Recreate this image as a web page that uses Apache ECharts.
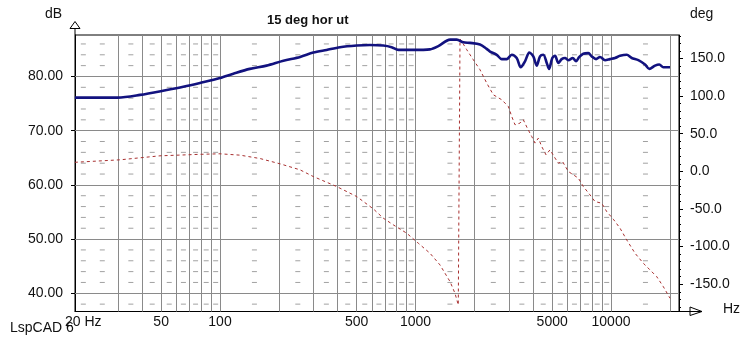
<!DOCTYPE html>
<html><head><meta charset="utf-8">
<script src="https://cdn.jsdelivr.net/npm/echarts@6/dist/echarts.min.js"></script>
<style>html,body{margin:0;padding:0;background:#fff}#c{width:750px;height:340px}</style>
</head><body><div id="c"></div>
<script>
// ---- data ----
const magFreq = [18.1, 30, 39, 53.4, 64.9, 79, 100, 117, 142, 173, 211, 257, 300, 351, 411, 500, 585, 684, 755, 817, 974, 1186, 1308, 1502, 1624, 1756, 1900, 2137, 2313, 2405, 2602, 2760, 2928, 3106, 3293, 3452, 3632, 3821, 4005, 4168, 4334, 4505, 4690, 4819, 5009, 5172, 5377, 5596, 5818, 6047, 6370, 6622, 6885, 7217, 7655, 7969, 8381, 8785, 9318, 9883, 10484, 11117, 12032, 12763, 13793, 14925, 15700, 16796, 17665, 18515, 20034];
const magDb = [76.1, 76.1, 76.6, 77.5, 78.1, 78.8, 79.7, 80.5, 81.4, 82.0, 82.9, 83.6, 84.4, 84.9, 85.4, 85.7, 85.8, 85.7, 85.4, 84.9, 84.9, 85.0, 85.6, 86.8, 86.8, 86.3, 86.2, 85.9, 85.1, 84.6, 84.0, 83.2, 83.2, 84.0, 83.4, 81.7, 82.8, 84.4, 83.7, 82.0, 83.7, 84.0, 82.5, 81.4, 83.4, 83.8, 82.5, 83.2, 83.4, 83.0, 83.4, 82.8, 83.6, 84.2, 84.3, 83.7, 83.2, 83.6, 83.0, 83.2, 83.4, 83.8, 84.0, 83.4, 83.0, 82.2, 81.4, 82.0, 82.2, 81.7, 81.7];
const phaseFreq = [18.1, 30.8, 49.3, 79, 100, 126.6, 160.2, 202.7, 256.6, 300, 395.3, 500.3, 608.4, 684.3, 770, 901.6, 1033.5, 1186, 1334, 1502, 1592, 1655, 1689, 1723, 1828, 1975, 2137, 2313, 2500, 2760, 2983, 3106, 3228, 3423, 3560, 3732, 3930, 4087, 4248, 4421, 4650, 4875, 5172, 5377, 5650, 6047, 6804, 7217, 7809, 8283, 8963, 9507, 10275, 11117, 12032, 13267, 14631, 15830, 17132, 18515, 20034];
const phaseDeg = [12.0, 15.3, 20.6, 22.6, 23.3, 21.5, 17.0, 10.0, 2.0, -6.9, -20.2, -33.5, -49.9, -62.2, -71.1, -82.2, -95.5, -108.8, -124.3, -146.5, -162.0, -177.5, 175.8, 172.6, 161.6, 148.3, 135.0, 117.3, 101.7, 95.1, 86.2, 72.9, 61.8, 64.1, 68.5, 57.4, 46.3, 37.5, 44.1, 33.0, 21.9, 28.6, 17.6, 10.9, 13.0, -0.2, -9.0, -20.2, -31.3, -40.2, -42.3, -53.5, -63.6, -75.5, -91.1, -108.8, -122.1, -131.0, -139.9, -153.2, -168.6];

// ---- ticks / grid ----
const xGridFreqs = [30, 40, 50, 60, 70, 80, 90, 100, 200, 300, 400, 500, 600, 700, 800, 900, 1000, 2000, 3000, 4000, 5000, 6000, 7000, 8000, 9000, 10000, 20000];
const xTickLabels = [20, 50, 100, 500, 1000, 5000, 10000];
const xMinorFreqs = [20, 25, 35, 45, 55, 65, 75, 85, 95, 150, 250, 350, 450, 550, 650, 750, 850, 950, 1500, 2500, 3500, 4500, 5500, 6500, 7500, 8500, 9500, 15000];
const dbTicks = [40, 50, 60, 70, 80];
const dbMinor = [38, 42, 44, 46, 48, 52, 54, 56, 58, 62, 64, 66, 68, 72, 74, 76, 78, 82, 84, 86];
const degTicks = [-150, -100, -50, 0, 50, 100, 150];
const degMinor = [-180, -170, -160, -140, -130, -120, -110, -90, -80, -70, -60, -40, -30, -20, -10, 10, 20, 30, 40, 60, 70, 80, 90, 110, 120, 130, 140, 160, 170, 180];

const X_MIN = 18.13, X_MAX = 22270;
const DB_MIN = 36.64, DB_MAX = 87.65;
const DEG_MIN = -186.2, DEG_MAX = 181.1;

// layout
const GL = 75, GR = 71, GT = 35, GB = 28.5, W = 750, H = 340;
const FONT = 'Liberation Sans, Arial, sans-serif';

const dashPts = [];
xMinorFreqs.forEach(f => dbMinor.forEach(v => dashPts.push([f, v])));

const chart = echarts.init(document.getElementById('c'), null, {renderer: 'canvas'});
const xR = W - GR, yB = H - GB;
chart.setOption({
  animation: false,
  backgroundColor: '#fff',
  grid: {left: GL, right: GR, top: GT, bottom: GB, show: true, borderColor: '#000', borderWidth: 1, backgroundColor: '#fff'},
  xAxis: {
    type: 'log', logBase: 10, min: X_MIN, max: X_MAX,
    axisLine: {show: true, onZero: false, lineStyle: {color: '#000', width: 1}},
    axisTick: {show: false}, axisLabel: {show: false},
    splitLine: {show: false}, minorTick: {show: false}, minorSplitLine: {show: false}
  },
  yAxis: [
    {
      type: 'value', position: 'left', min: DB_MIN, max: DB_MAX,
      axisLine: {show: true, onZero: false, lineStyle: {color: '#000'}},
      axisTick: {show: true, customValues: dbTicks, length: 4, lineStyle: {color: '#000'}},
      axisLabel: {customValues: dbTicks, formatter: v => Number(v).toFixed(2), margin: 12, fontSize: 14, color: '#111', fontFamily: FONT},
      splitLine: {show: false}
    },
    {
      type: 'value', position: 'right', min: DEG_MIN, max: DEG_MAX,
      axisLine: {show: true, onZero: false, lineStyle: {color: '#000'}},
      axisTick: {show: true, customValues: degTicks, length: 4, lineStyle: {color: '#000'}},
      axisLabel: {customValues: degTicks, formatter: v => Number(v).toFixed(1), margin: 11, fontSize: 14, color: '#111', fontFamily: FONT},
      splitLine: {show: false}
    },
    {
      type: 'value', position: 'right', min: DEG_MIN, max: DEG_MAX,
      axisLine: {show: false, onZero: false},
      axisTick: {show: true, customValues: degMinor, length: 2, lineStyle: {color: '#000'}},
      axisLabel: {show: false},
      splitLine: {show: false}
    }
  ],
  series: [
    {
      type: 'scatter', yAxisIndex: 0, silent: true, z: 1,
      symbol: 'rect', symbolSize: [5, 1],
      itemStyle: {color: '#8a8a8a'},
      data: dashPts,
      markLine: {
        silent: true, symbol: ['none', 'none'], animation: false,
        label: {show: false},
        lineStyle: {color: '#8a8a8a', width: 1, type: 'solid'},
        emphasis: {disabled: true},
        data: xGridFreqs.map(f => ({xAxis: f})).concat(dbTicks.map(v => ({yAxis: v})))
      }
    },
    {
      name: 'phase', type: 'line', yAxisIndex: 1, z: 9, showSymbol: false, silent: true,
      lineStyle: {color: '#a83030', width: 1, type: [3, 3]},
      data: phaseFreq.map((f, i) => [f, phaseDeg[i]]),
      markLine: {
        silent: true, symbol: ['none', 'none'], animation: false,
        lineStyle: {color: 'rgba(255,255,255,0)', width: 1, type: 'solid'},
        emphasis: {disabled: true},
        label: {show: true, position: 'start', distance: 4, fontSize: 14, color: '#111', fontFamily: FONT,
          formatter: p => (Math.round(p.value) === 20 ? '20 Hz' : String(Math.round(p.value)))},
        data: xTickLabels.map(f => ({xAxis: f}))
      }
    },
    {
      name: 'magnitude', type: 'line', yAxisIndex: 0, z: 10, showSymbol: false, silent: true,
      smooth: 0.3,
      lineStyle: {color: '#12127f', width: 2.6},
      data: magFreq.map((f, i) => [f, magDb[i]])
    }
  ],
  graphic: [
    {type: 'text', x: 267, y: 20, z: 100, style: {text: '15 deg hor ut', font: 'bold 13px ' + FONT, fill: '#111', verticalAlign: 'middle'}},
    {type: 'text', x: 45, y: 14, z: 100, style: {text: 'dB', font: '14px ' + FONT, fill: '#111', verticalAlign: 'middle'}},
    {type: 'text', x: 690, y: 14, z: 100, style: {text: 'deg', font: '14px ' + FONT, fill: '#111', verticalAlign: 'middle'}},
    {type: 'text', x: 723, y: 309, z: 100, style: {text: 'Hz', font: '14px ' + FONT, fill: '#111', verticalAlign: 'middle'}},
    {type: 'text', x: 10, y: 328, z: 100, style: {text: 'LspCAD 6', font: '14px ' + FONT, fill: '#111', verticalAlign: 'middle'}},
    // left axis arrow
    {type: 'line', z: 100, shape: {x1: GL, y1: GT, x2: GL, y2: GT - 7}, style: {stroke: '#000', lineWidth: 1}},
    {type: 'polygon', z: 100, shape: {points: [[GL, GT - 13.5], [GL - 5, GT - 6.5], [GL + 5, GT - 6.5]]}, style: {fill: '#fff', stroke: '#000', lineWidth: 1}},
    // bottom axis arrow
    {type: 'line', z: 100, shape: {x1: xR, y1: yB, x2: xR + 23, y2: yB}, style: {stroke: '#000', lineWidth: 1}},
    {type: 'polygon', z: 100, shape: {points: [[xR + 11, yB - 4.5], [xR + 11, yB + 4], [xR + 23, yB]]}, style: {fill: 'none', stroke: '#000', lineWidth: 1}}
  ]
});
</script></body></html>
